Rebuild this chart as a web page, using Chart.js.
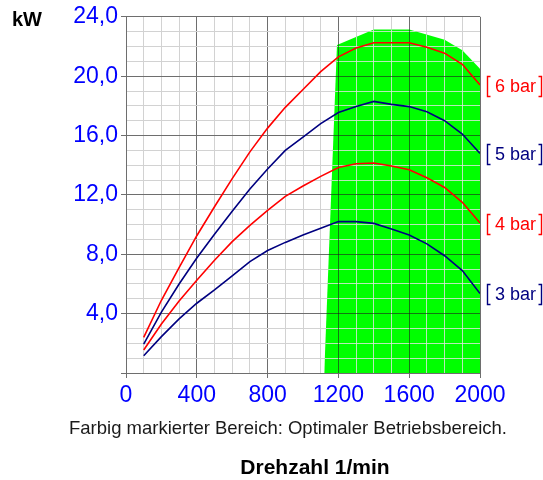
<!DOCTYPE html>
<html><head><meta charset="utf-8">
<script src="https://cdn.jsdelivr.net/npm/chart.js@4"></script>
<style>
html,body{margin:0;padding:0;background:#fff;}
#wrap{position:relative;width:543px;height:480px;overflow:hidden;}
canvas{position:absolute;left:0;top:0;}
.t{position:absolute;font-family:"Liberation Sans",Arial,sans-serif;white-space:nowrap;}
</style></head><body>
<div id="wrap">
<canvas id="c" width="543" height="480"></canvas>
<div class="t" style="left:12px;top:9px;font-size:20px;line-height:20px;font-weight:bold;color:#000;">kW</div>
<div class="t" style="left:288px;top:417px;transform:translateX(-50%);font-size:18.5px;line-height:22px;color:#1a1a1a;">Farbig markierter Bereich: Optimaler Betriebsbereich.</div>
<div class="t" style="left:315px;top:456px;transform:translateX(-50%);font-size:21px;line-height:22px;font-weight:bold;color:#000;">Drehzahl 1/min</div>
</div>
<script>
// ---- data ----
const rpm  = [100, 200, 300, 400, 500, 600, 700, 800, 900, 1000, 1100, 1200, 1300, 1400, 1500, 1600, 1700, 1800, 1900, 2000];
const bar6 = [2.4, 4.9, 7.1, 9.25, 11.2, 13.1, 14.9, 16.5, 17.9, 19.1, 20.3, 21.3, 21.9, 22.25, 22.25, 22.25, 21.95, 21.55, 20.8, 19.4];
const bar5 = [1.95, 4.1, 6.0, 7.75, 9.35, 10.9, 12.4, 13.75, 15.0, 15.9, 16.8, 17.55, 17.95, 18.3, 18.1, 17.95, 17.6, 17.0, 16.1, 14.8];
const bar4 = [1.55, 3.3, 4.85, 6.25, 7.6, 8.85, 9.95, 10.95, 11.9, 12.6, 13.25, 13.85, 14.1, 14.15, 13.95, 13.7, 13.15, 12.5, 11.5, 10.1];
const bar3 = [1.16, 2.45, 3.65, 4.7, 5.6, 6.55, 7.5, 8.25, 8.8, 9.3, 9.75, 10.2, 10.2, 10.08, 9.7, 9.3, 8.7, 7.9, 6.9, 5.36];
const seriesLabels = ['6 bar', '5 bar', '4 bar', '3 bar'];
const seriesColors = ['#ff0000', '#000080', '#ff0000', '#000080'];
const greenRpm = [1120, 1192, 1400, 1600, 1800, 1900, 2000];
const greenKw  = [0, 22.1, 23.15, 23.15, 22.45, 21.75, 20.5];
const xTickValues = [0, 400, 800, 1200, 1600, 2000];
const xTickLabels = ['0', '400', '800', '1200', '1600', '2000'];
const yTickValues = [4, 8, 12, 16, 20, 24];
const yTickLabels = ['4,0', '8,0', '12,0', '16,0', '20,0', '24,0'];

// ---- styling ----
const FONT = '"Liberation Sans", Arial, sans-serif';
const isMajorX = v => v % 400 === 0;
const isMajorY = v => v % 4 === 0;
const GRID_MINOR = '#d2d2d2', GRID_MAJOR = '#6e6e6e';
const GREEN_MINOR = 'rgba(228,228,228,0.8)', GREEN_MAJOR = 'rgba(30,30,30,0.6)';

const seriesValues = [bar6, bar5, bar4, bar3];
const curveDatasets = seriesValues.map((vals, i) => ({
  label: seriesLabels[i],
  data: rpm.map((x, j) => ({x: x, y: vals[j]})),
  borderColor: seriesColors[i],
  borderWidth: 1.6,
  pointRadius: 0,
  fill: false,
  tension: 0,
  order: 0
}));
const greenDataset = {
  label: 'Optimaler Betriebsbereich',
  data: greenRpm.map((x, j) => ({x: x, y: greenKw[j]})),
  backgroundColor: '#00ff00',
  borderWidth: 0,
  borderColor: 'rgba(0,0,0,0)',
  pointRadius: 0,
  fill: 'origin',
  tension: 0,
  order: 5
};

const gridOverGreen = {
  id: 'gridOverGreen',
  afterDatasetDraw(chart, args) {
    if (args.index !== 0) return;
    const pts = args.meta.data;
    const {ctx, chartArea: ca, scales: {x, y}} = chart;
    const y0 = y.getPixelForValue(0);
    ctx.save();
    ctx.beginPath();
    ctx.rect(ca.left, ca.top, ca.right - ca.left, ca.bottom - ca.top);
    ctx.clip();
    ctx.beginPath();
    ctx.moveTo(pts[0].x, y0);
    pts.forEach(p => ctx.lineTo(p.x, p.y));
    ctx.lineTo(pts[pts.length - 1].x, y0);
    ctx.closePath();
    ctx.clip();
    ctx.lineWidth = 1;
    const al = p => Math.round(p - 0.5) + 0.5;
    [false, true].forEach(major => {
      ctx.strokeStyle = major ? GREEN_MAJOR : GREEN_MINOR;
      x.ticks.forEach(t => {
        if (isMajorX(t.value) !== major) return;
        const px = al(x.getPixelForValue(t.value));
        ctx.beginPath(); ctx.moveTo(px, ca.top); ctx.lineTo(px, ca.bottom); ctx.stroke();
      });
      y.ticks.forEach(t => {
        if (isMajorY(t.value) !== major) return;
        const py = al(y.getPixelForValue(t.value));
        ctx.beginPath(); ctx.moveTo(ca.left, py); ctx.lineTo(ca.right, py); ctx.stroke();
      });
    });
    ctx.restore();
  }
};

const endLabels = {
  id: 'endLabels',
  afterDatasetsDraw(chart) {
    const {ctx, chartArea: ca} = chart;
    ctx.save();
    for (let i = 1; i < chart.data.datasets.length; i++) {
      const ds = chart.data.datasets[i];
      const meta = chart.getDatasetMeta(i);
      const last = meta.data[meta.data.length - 1];
      const cy = last.y + 1;
      const l = Math.round(ca.right + 7) + 0.5, r = 541.5;
      const t = Math.round(cy - 10) + 0.5, b = Math.round(cy + 10) + 0.5;
      ctx.strokeStyle = ds.borderColor;
      ctx.lineWidth = 1.4;
      ctx.beginPath();
      ctx.moveTo(l + 3, t); ctx.lineTo(l, t); ctx.lineTo(l, b); ctx.lineTo(l + 3, b);
      ctx.moveTo(r - 3, t); ctx.lineTo(r, t); ctx.lineTo(r, b); ctx.lineTo(r - 3, b);
      ctx.stroke();
      ctx.fillStyle = ds.borderColor;
      ctx.font = '18px ' + FONT;
      ctx.textBaseline = 'middle';
      ctx.textAlign = 'left';
      ctx.fillText(ds.label, l + 7.5, cy + 1);
    }
    ctx.restore();
  }
};

new Chart(document.getElementById('c'), {
  type: 'line',
  data: { datasets: [greenDataset].concat(curveDatasets) },
  plugins: [gridOverGreen, endLabels],
  options: {
    responsive: false,
    devicePixelRatio: 1,
    animation: false,
    layout: { padding: { left: 0, right: 63, top: 16, bottom: 0 } },
    plugins: { legend: { display: false }, tooltip: { enabled: false }, title: { display: false } },
    scales: {
      x: {
        type: 'linear', min: 0, max: 2000,
        ticks: {
          stepSize: 100, autoSkip: false, maxRotation: 0, minRotation: 0,
          color: '#0000ff', font: { family: FONT, size: 23 }, padding: 4,
          callback: v => { const i = xTickValues.indexOf(v); return i >= 0 ? xTickLabels[i] : ''; }
        },
        grid: {
          color: c => (c.tick && isMajorX(c.tick.value)) ? GRID_MAJOR : GRID_MINOR,
          tickColor: c => (c.tick && isMajorX(c.tick.value)) ? GRID_MAJOR : 'rgba(0,0,0,0)',
          tickLength: 5, lineWidth: 1
        },
        border: { color: GRID_MAJOR, width: 1 },
        afterFit: s => { s.height = 107; }
      },
      y: {
        type: 'linear', min: 0, max: 24,
        ticks: {
          stepSize: 1, autoSkip: false,
          color: '#0000ff', font: { family: FONT, size: 23 }, padding: 3,
          callback: v => { const i = yTickValues.indexOf(v); return i >= 0 ? yTickLabels[i] : ''; }
        },
        grid: {
          color: c => (c.tick && isMajorY(c.tick.value)) ? GRID_MAJOR : GRID_MINOR,
          tickColor: c => (c.tick && isMajorY(c.tick.value)) ? GRID_MAJOR : 'rgba(0,0,0,0)',
          tickLength: 5, lineWidth: 1
        },
        border: { color: GRID_MAJOR, width: 1 },
        afterFit: s => { s.width = 126; }
      }
    }
  }
});
</script>
</body></html>
